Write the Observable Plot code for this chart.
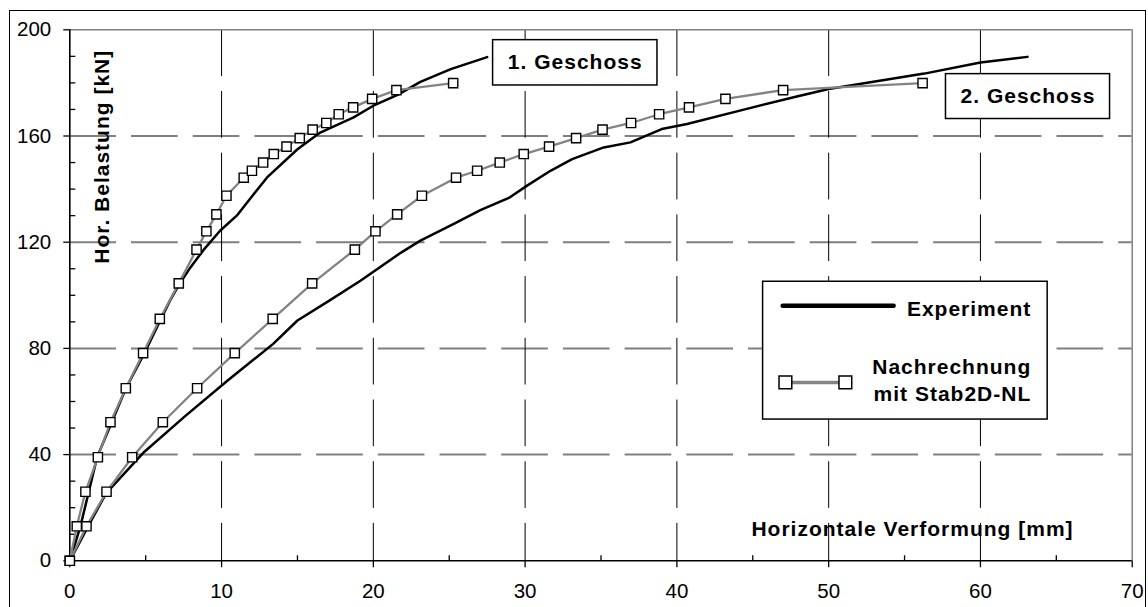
<!DOCTYPE html>
<html>
<head>
<meta charset="utf-8">
<script src="https://cdn.jsdelivr.net/npm/d3@7"></script>
<script src="https://cdn.jsdelivr.net/npm/@observablehq/plot@0.6"></script>
<style>
  body { margin: 0; background: #fff; }
  #chart { position: relative; width: 1148px; height: 607px; overflow: hidden; background: #fff; }
  #chart .outline {
    position: absolute; left: 9px; top: 10px; width: 1137px; height: 640px;
    border: 1.5px solid #000; box-sizing: border-box; pointer-events: none;
  }
</style>
</head>
<body>
<div id="chart"></div>
<script>
// Load steps of the Stab2D-NL recalculation (same steps for both storeys) [kN]
const calcLoad = [0, 13, 26, 39, 52.2, 65, 78.2, 91.1, 104.5, 117.2, 124.1, 130.5, 137.5, 144.3, 146.9, 150, 153.2, 156, 159.2, 162.4, 164.9, 168.2, 170.8, 174, 177.3, 179.9];
// Computed horizontal deformation [mm]
const calcDefl1 = [0, 0.46, 1.03, 1.85, 2.68, 3.69, 4.83, 5.93, 7.18, 8.35, 9.0, 9.66, 10.32, 11.46, 12.0, 12.74, 13.44, 14.28, 15.15, 16.0, 16.9, 17.72, 18.67, 19.92, 21.52, 25.26];
const calcDefl2 = [0, 1.1, 2.42, 4.11, 6.13, 8.39, 10.87, 13.37, 15.97, 18.78, 20.14, 21.57, 23.2, 25.45, 26.84, 28.33, 29.91, 31.58, 33.36, 35.1, 36.98, 38.83, 40.8, 43.2, 47.0, 56.19];

// Measured curves (experiment)
const expDefl1 = [0, 0.7, 1.8, 3.7, 4.9, 6.0, 6.6, 7.2, 7.95, 8.8, 9.9, 11.0, 12.1, 13.0, 15.0, 16.5, 18.7, 20.0, 21.6, 23.1, 25.1, 27.5];
const expLoad1 = [0, 13, 39, 65, 78, 91, 98, 104, 110.5, 117, 124.3, 130, 138, 144.4, 155, 161.3, 167, 171.4, 175.5, 180.4, 185.2, 189.7];
const expDefl2 = [0, 1.3, 2.4, 4.9, 7.6, 10.4, 13.4, 15.0, 17.1, 19.15, 21.8, 23.1, 25.3, 27.05, 29.0, 30.13, 31.67, 33.1, 35.18, 36.94, 39.0, 40.67, 44.8, 47.9, 50.0, 56.3, 60.0, 63.1];
const expLoad2 = [0, 14, 25.5, 41, 54.5, 67.9, 81.7, 90.5, 98, 105.5, 116, 120.6, 126.9, 132.1, 136.9, 141.3, 146.9, 151.3, 155.7, 157.6, 162.6, 164.5, 170.5, 174.9, 177.7, 183.5, 187.7, 189.8];

// Axis ticks
const xMajor = [0, 10, 20, 30, 40, 50, 60, 70];
const xMinor = [5, 15, 25, 35, 45, 55, 65];
const yMajor = [0, 40, 80, 120, 160, 200];
const yMinor = [10, 20, 30, 50, 60, 70, 90, 100, 110, 130, 140, 150, 170, 180, 190];
const xGrid = [10, 20, 30, 40, 50, 60];
const yGrid = [40, 80, 120, 160];

// Text
const xTitle = "Horizontale Verformung [mm]";
const yTitle = "Hor. Belastung [kN]";
const storeyLabels = ["1. Geschoss", "2. Geschoss"];
const legendExp = "Experiment";
const legendCalc = "Nachrechnung\nmit Stab2D-NL";

const zip = (xs, ys) => xs.map((d, i) => ({d, f: ys[i]}));
const exp1 = zip(expDefl1, expLoad1);
const exp2 = zip(expDefl2, expLoad2);
const calc1 = zip(calcDefl1, calcLoad);
const calc2 = zip(calcDefl2, calcLoad);

const FONT = "'Liberation Sans', Arial, sans-serif";
const DASH = "46.7 15";
const GRAY = "#838383";

const plot = Plot.plot({
  width: 1148,
  height: 607,
  marginLeft: 69.3,
  marginRight: 16.3,
  marginTop: 29.3,
  marginBottom: 46.7,
  x: {domain: [0, 70]},
  y: {domain: [0, 200]},
  style: {fontFamily: FONT, fontSize: "20px", background: "transparent", color: "#000", overflow: "visible"},
  marks: [
    // dashed grid
    Plot.ruleY(yGrid, {stroke: "#808080", strokeWidth: 2, strokeDasharray: DASH}),
    Plot.ruleX(xGrid, {stroke: "#000", strokeWidth: 1, strokeDasharray: DASH}),
    // plot-area outline (top and right in gray)
    Plot.ruleY([200], {stroke: "#808080", strokeWidth: 1.5}),
    Plot.ruleX([70], {stroke: "#808080", strokeWidth: 1.5}),
    // axes
    Plot.ruleX([0], {stroke: "#000", strokeWidth: 1.6}),
    Plot.ruleY([0], {stroke: "#000", strokeWidth: 1.6}),
    Plot.axisY(yMajor, {tickSize: 6, tickPadding: 12.6, label: null, fontSize: 20.5, strokeWidth: 1.3}),
    Plot.axisY(yMinor, {tickSize: 6, dx: 6, tickFormat: () => "", label: null, strokeWidth: 1.3}),
    Plot.axisX(xMajor, {tickSize: 7, tickPadding: 15.5, label: null, fontSize: 20.5, strokeWidth: 1.3}),
    Plot.axisX(xMinor, {tickSize: 5, dy: -5, tickFormat: () => "", label: null, strokeWidth: 1.3}),

    // axis titles
    Plot.text([yTitle], {text: d => d, x: 2.15, y: 152.2, rotate: -90, fontSize: 21, fontWeight: "bold",
      textAnchor: "middle", lineAnchor: "middle"}),
    Plot.text([xTitle], {text: d => d, x: 66.14, y: 9.52, fontSize: 21, fontWeight: "bold",
      textAnchor: "end", lineAnchor: "bottom"}),

    // experiment curves
    Plot.line(exp1, {x: "d", y: "f", stroke: "#000", strokeWidth: 2.5}),
    Plot.line(exp2, {x: "d", y: "f", stroke: "#000", strokeWidth: 2.5}),
    // recalculation curves with markers
    Plot.line(calc1, {x: "d", y: "f", stroke: GRAY, strokeWidth: 2.3}),
    Plot.line(calc2, {x: "d", y: "f", stroke: GRAY, strokeWidth: 2.3}),
    Plot.dot(calc1, {x: "d", y: "f", symbol: "square", r: 5.2, fill: "#fff", stroke: "#000", strokeWidth: 1.4}),
    Plot.dot(calc2, {x: "d", y: "f", symbol: "square", r: 5.2, fill: "#fff", stroke: "#000", strokeWidth: 1.4}),

    // storey labels
    Plot.rect([storeyLabels[0]], {x1: 27.89, x2: 38.72, y1: 179.03, y2: 196.1, fill: "#fff", stroke: "#000", strokeWidth: 1.5}),
    Plot.text([storeyLabels[0]], {text: d => d, x: 33.3, y: 187.6, fontSize: 21, fontWeight: "bold", lineAnchor: "middle"}),
    Plot.rect([storeyLabels[1]], {x1: 57.73, x2: 68.54, y1: 166.4, y2: 183.3, fill: "#fff", stroke: "#000", strokeWidth: 1.5}),
    Plot.text([storeyLabels[1]], {text: d => d, x: 63.13, y: 174.86, fontSize: 21, fontWeight: "bold", lineAnchor: "middle"}),

    // legend
    Plot.rect([legendExp], {x1: 45.68, x2: 64.43, y1: 53.2, y2: 105.1, fill: "#fff", stroke: "#000", strokeWidth: 1.5}),
    Plot.line([[46.97, 96.1], [54.28, 96.1]], {stroke: "#000", strokeWidth: 4.5}),
    Plot.line([[47.15, 67.2], [51.1, 67.2]], {stroke: GRAY, strokeWidth: 3.5}),
    Plot.dot([[47.15, 67.2], [51.1, 67.2]], {symbol: "square", r: 7.2, fill: "#fff", stroke: "#000", strokeWidth: 1.5}),
    Plot.text([legendExp], {text: d => d, x: 63.35, y: 92.08, fontSize: 21, fontWeight: "bold",
      textAnchor: "end", lineAnchor: "bottom"}),
    Plot.text([legendCalc], {text: d => d, x: 63.35, y: 60.08, fontSize: 21, fontWeight: "bold",
      textAnchor: "end", lineAnchor: "bottom", lineHeight: 1.32})
  ]
});

// slightly wider tracking on the bold annotations
d3.select(plot).selectAll('g[font-weight="bold"]').attr("letter-spacing", "1px");

const chart = document.getElementById("chart");
chart.appendChild(plot);
const outline = document.createElement("div");
outline.className = "outline";
chart.appendChild(outline);
</script>
</body>
</html>
